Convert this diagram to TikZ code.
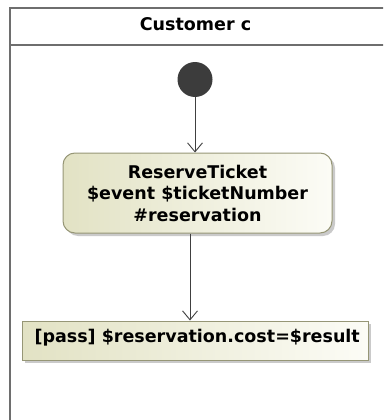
\documentclass[tikz,border=0pt]{standalone}
\usepackage{fontspec}
\setmainfont{DejaVu Sans}
\usetikzlibrary{arrows.meta,shadows}
\definecolor{framegray}{RGB}{110,110,110}
\definecolor{edgecol}{RGB}{150,150,118}
\definecolor{creamL}{RGB}{226,226,196}
\definecolor{creamR}{RGB}{252,252,246}
\definecolor{darknode}{RGB}{60,60,60}
\definecolor{flowcol}{RGB}{64,64,64}
\tikzset{
  lbl/.style={font=\bfseries\fontsize{17.5}{21.5}\selectfont, text=black},
  actionbox/.style={lbl, draw=edgecol, line width=1pt, left color=creamL, right color=creamR,
    drop shadow={shadow xshift=3pt, shadow yshift=-3pt, fill=black!35, opacity=0.6}},
  flow/.style={draw=flowcol, line width=0.9pt, -{Straight Barb[length=9pt,width=15pt,line width=0.9pt]}},
}
\begin{document}
\begin{tikzpicture}[x=1pt,y=-1pt]
\useasboundingbox (0,0) rectangle (383,420);
\clip (0,0) rectangle (383,420);
% swimlane frame and header
\draw[framegray, line width=1.6pt] (10,8) rectangle (400,440);
\draw[framegray, line width=1.6pt] (10,45) -- (400,45);
\node[lbl] (lane) at (195.5,24.5) {Customer c};
% initial node
\node[circle, fill=darknode, minimum size=35pt, inner sep=0pt] (init) at (195,79.5) {};
% action
\node[actionbox, rounded corners=12pt, minimum width=269pt, minimum height=80pt, align=center, inner sep=0pt]
  (act) at (197.5,193) {ReserveTicket\\ \$event \$ticketNumber\\ \#reservation};
% decision-like guard box
\node[actionbox, minimum width=346pt, minimum height=39pt, inner sep=0pt] (pass) at (195,340.5) {};
\node[lbl, anchor=west] (passtxt) at (31,338) {[pass] \$reservation.cost=\$result};
% control flows
\coordinate (x1) at (195,0);
\coordinate (x2) at (190,0);
\draw[flow] (init.south) -- (act.north -| x1);
\draw[flow] (act.south -| x2) -- (pass.north -| x2);
\end{tikzpicture}
\end{document}
